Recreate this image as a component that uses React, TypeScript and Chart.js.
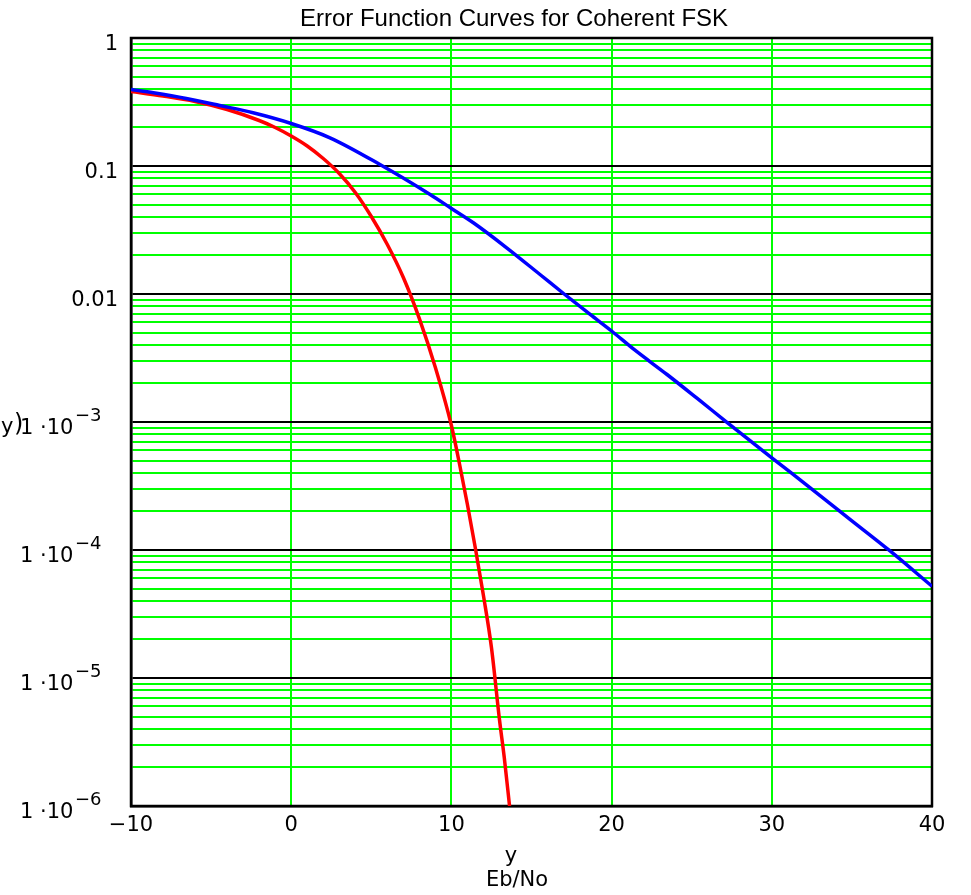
import React, { useEffect, useRef } from "react";
import { Chart, registerables } from "chart.js";

Chart.register(...registerables);

const TITLE = "Error Function Curves for Coherent FSK";
const X_TITLE_TOP = "y";
const X_TITLE_BOTTOM = "Eb/No";
const Y_TITLE_A = "y";
const Y_TITLE_B = ")";

const xTicks = [-10, 0, 10, 20, 30, 40];
const yDecades = [1, 0.1, 0.01, 1e-3, 1e-4, 1e-5, 1e-6];
const yTickMantissa = ["1", "0.1", "0.01", "1 ·10", "1 ·10", "1 ·10", "1 ·10"];
const yTickExponent = ["", "", "", "−3", "−4", "−5", "−6"];
const yMinorSteps = [2, 3, 4, 5, 6, 7, 8, 9];

// Blue curve
const blueX = [
  -10, -8.6, -6.55, -4.46, -2.38, 0, 2.42, 5.54, 8.67, 10, 11.37, 13.45, 15.53, 17, 18.66, 20, 21.4,
  23.46, 25.54, 27.2, 30, 32.4, 34.9, 37.4, 40,
];
const blueY = [
  0.396, 0.373, 0.3368, 0.297, 0.2605, 0.2148, 0.1661, 0.1027, 0.0599, 0.0466, 0.036, 0.02296, 0.0142,
  0.01009, 0.00692, 0.00514, 0.003685, 0.00235, 0.00146, 0.000995, 0.000525, 0.000306, 0.000173,
  0.0000979, 0.0000521,
];

// Red curve
const redX = [-10, -8, -6, -4, -2, -1, 0, 1, 2, 3, 4, 5, 6, 7, 8, 9, 10, 10.5, 11, 11.5, 12, 12.5, 13, 13.3, 13.63];
const redY = [
  0.382, 0.3522, 0.319, 0.2762, 0.2267, 0.1999, 0.1715, 0.1433, 0.1144, 0.0874, 0.0621, 0.0403, 0.02435,
  0.01346, 0.00643, 0.002666, 0.000939, 0.000474, 0.0002267, 0.0001028, 0.0000441, 0.0000173,
  0.00000474, 0.00000239, 0.000001,
];

const GREEN = "#00ff00";

function isDecade(v: number) {
  const l = Math.log10(v);
  return Math.abs(l - Math.round(l)) < 1e-6;
}

const labelsPlugin = {
  id: "mathcadLabels",
  beforeDatasetsDraw(chart: any) {
    const { ctx, chartArea } = chart;
    ctx.save();
    ctx.strokeStyle = "#000";
    ctx.lineWidth = 2.5;
    ctx.strokeRect(chartArea.left, chartArea.top, chartArea.right - chartArea.left, chartArea.bottom - chartArea.top);
    ctx.restore();
  },
  afterDraw(chart: any) {
    const ctx = chart.ctx;
    const ys = chart.scales.y;
    ctx.save();
    ctx.fillStyle = "#000";
    ctx.textBaseline = "alphabetic";
    yDecades.forEach((v, i) => {
      const py = ys.getPixelForValue(v);
      if (yTickExponent[i]) {
        ctx.font = '21px "DejaVu Sans"';
        ctx.textAlign = "left";
        ctx.fillText(yTickMantissa[i], 20, py + 11.5);
        ctx.font = '18px "DejaVu Sans"';
        ctx.fillText(yTickExponent[i], 75, py - 1);
      } else {
        ctx.font = '21px "DejaVu Sans"';
        ctx.textAlign = "right";
        ctx.fillText(yTickMantissa[i], 118, py + 11.5);
      }
    });
    // y axis title fragments
    const pyMid = ys.getPixelForValue(1e-3);
    ctx.font = '21px "DejaVu Sans"';
    ctx.textAlign = "left";
    ctx.fillText(Y_TITLE_A, 1, pyMid + 11);
    ctx.font = '24px "DejaVu Sans"';
    ctx.fillText(Y_TITLE_B, 14, pyMid + 9);
    // title
    ctx.font = '24px "Liberation Sans"';
    ctx.textAlign = "center";
    ctx.fillText(TITLE, 514, 26);
    // x title
    ctx.font = '21px "DejaVu Sans"';
    ctx.textAlign = "center";
    ctx.fillText(X_TITLE_TOP, 511, 862);
    ctx.font = '21px "DejaVu Sans"';
    ctx.fillText(X_TITLE_BOTTOM, 517, 886);
    ctx.restore();
  },
};

export default function App() {
  const ref = useRef<HTMLCanvasElement | null>(null);

  useEffect(() => {
    if (!ref.current) return;
    const yGrid: number[] = [];
    for (const d of yDecades) {
      yGrid.push(d);
      if (d < 1) for (const m of yMinorSteps) yGrid.push(d * m);
    }
    const chart = new Chart(ref.current, {
      type: "line",
      data: {
        datasets: [
          {
            label: "blue",
            data: blueX.map((x, i) => ({ x, y: blueY[i] })),
            borderColor: "#0000ff",
            borderWidth: 3.5,
            pointRadius: 0,
            cubicInterpolationMode: "monotone",
            fill: false,
          },
          {
            label: "red",
            data: redX.map((x, i) => ({ x, y: redY[i] })),
            borderColor: "#ff0000",
            borderWidth: 3.5,
            pointRadius: 0,
            cubicInterpolationMode: "monotone",
            fill: false,
          },
        ],
      },
      options: {
        responsive: false,
        animation: false,
        devicePixelRatio: 1,
        layout: { padding: { top: 38, right: 39, left: 0, bottom: 0 } },
        plugins: {
          legend: { display: false },
          title: { display: false },
          tooltip: { enabled: false },
        },
        scales: {
          x: {
            type: "linear",
            min: -10,
            max: 40,
            afterFit: (s: any) => {
              s.height = 89;
            },
            afterBuildTicks: (s: any) => {
              s.ticks = xTicks.map((v) => ({ value: v }));
            },
            ticks: {
              color: "#000",
              font: { family: "DejaVu Sans", size: 21 },
              padding: 7,
              maxRotation: 0,
              autoSkip: false,
              callback: (v: any) => (Number(v) < 0 ? "−" + Math.abs(Number(v)) : String(v)),
            },
            grid: { color: GREEN, lineWidth: 2, drawTicks: false },
            border: { display: true, color: "#000", width: 2.5 },
          },
          y: {
            type: "logarithmic",
            min: 1e-6,
            max: 1,
            afterFit: (s: any) => {
              s.width = 131;
            },
            afterBuildTicks: (s: any) => {
              s.ticks = yGrid.map((v) => ({ value: v, major: isDecade(v) }));
            },
            ticks: { display: false, autoSkip: false },
            grid: {
              color: (c: any) => (c.tick && isDecade(c.tick.value) ? "#000" : GREEN),
              lineWidth: 2,
              drawTicks: false,
            },
            border: { display: true, color: "#000", width: 2.5 },
          },
        },
      },
      plugins: [labelsPlugin],
    });
    return () => chart.destroy();
  }, []);

  return (
    <div style={{ position: "fixed", left: 0, top: 0, width: 971, height: 895, background: "#fff" }}>
      <canvas ref={ref} width={971} height={895} style={{ display: "block" }} />
    </div>
  );
}
